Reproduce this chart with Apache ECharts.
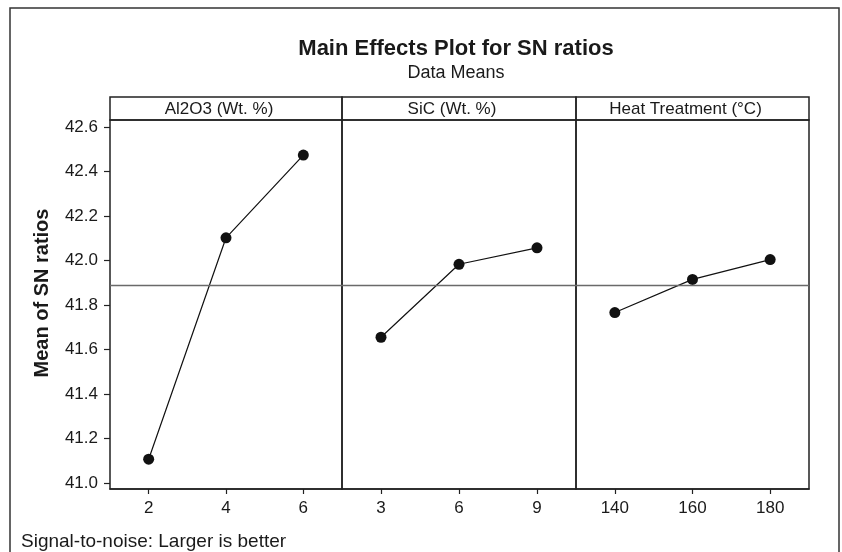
<!DOCTYPE html>
<html>
<head>
<meta charset="utf-8">
<script src="https://cdn.jsdelivr.net/npm/echarts@6/dist/echarts.min.js"></script>
<style>
  html, body { margin: 0; padding: 0; background: #fff; }
  #main { width: 842px; height: 552px; }
</style>
</head>
<body>
<div id="main"></div>
<script>
// factor levels and mean SN ratios
var panelNames = ['Al2O3 (Wt. %)', 'SiC (Wt. %)', 'Heat Treatment (°C)'];
var xAl = ['2', '4', '6'];
var snAl = [41.107, 42.102, 42.474];
var xSiC = ['3', '6', '9'];
var snSiC = [41.655, 41.983, 42.057];
var xHeat = ['140', '160', '180'];
var snHeat = [41.766, 41.915, 42.004];
var yTicks = [41.0, 41.2, 41.4, 41.6, 41.8, 42.0, 42.2, 42.4, 42.6];

var font = 'Liberation Sans, Arial, Helvetica, sans-serif';
var ink = '#1a1a1a';

// grand mean (reference line)
var grandMean = snAl.reduce(function (a, b) { return a + b; }, 0) / snAl.length;

var myChart = echarts.init(document.getElementById('main'));

var panels = [
    { left: 110, width: 232, cats: xAl, vals: snAl },
    { left: 342, width: 234, cats: xSiC, vals: snSiC },
    { left: 576, width: 233, cats: xHeat, vals: snHeat }
];

var grids = [], xAxes = [], yAxes = [], series = [], headers = [];

panels.forEach(function (p, i) {
    grids.push({
        left: p.left, top: 120, width: p.width, height: 369,
        show: true, borderColor: '#222', borderWidth: 1.5
    });
    xAxes.push({
        type: 'category', gridIndex: i, data: p.cats, boundaryGap: true,
        axisLine: { show: true, lineStyle: { color: '#222', width: 1.5 } },
        axisTick: { show: true, alignWithLabel: true, length: 5, lineStyle: { color: '#222', width: 1.2 } },
        axisLabel: { fontSize: 17, color: ink, fontFamily: font, margin: 11 },
        splitLine: { show: false }
    });
    yAxes.push({
        type: 'value', gridIndex: i, min: 40.973, max: 42.6315,
        axisLine: { show: false },
        axisTick: {
            show: i === 0, length: 6, customValues: yTicks,
            lineStyle: { color: '#222', width: 1.2 }
        },
        axisLabel: {
            show: i === 0, customValues: yTicks, fontSize: 17, color: ink,
            fontFamily: font, margin: 12,
            formatter: function (v) { return v.toFixed(1); }
        },
        splitLine: { show: false }
    });
    series.push({
        type: 'line', xAxisIndex: i, yAxisIndex: i, data: p.vals,
        symbol: 'circle', symbolSize: 11,
        itemStyle: { color: '#111' },
        lineStyle: { color: '#111', width: 1.2 },
        markLine: {
            silent: true, symbol: 'none', label: { show: false },
            lineStyle: { color: '#6a6a6a', width: 1.3, type: 'solid' },
            data: [{ yAxis: grandMean }]
        }
    });
    // panel header box
    headers.push({
        type: 'rect',
        shape: { x: p.left, y: 97, width: p.width, height: 23 },
        style: { fill: 'none', stroke: '#222', lineWidth: 1.5 }
    });
    headers.push({
        type: 'text',
        x: p.left + p.width / 2 - 7, y: 109,
        style: {
            text: panelNames[i], fontSize: 17, fontFamily: font, fill: ink,
            textAlign: 'center', textVerticalAlign: 'middle'
        }
    });
});

var option = {
    backgroundColor: '#fff',
    animation: false,
    title: {
        text: 'Main Effects Plot for SN ratios',
        subtext: 'Data Means',
        left: 451, top: 33, textAlign: 'center', itemGap: 4,
        textStyle: { fontSize: 22, fontWeight: 'bold', color: ink, fontFamily: font },
        subtextStyle: { fontSize: 18, color: ink, fontFamily: font }
    },
    grid: grids,
    xAxis: xAxes,
    yAxis: yAxes,
    series: series,
    graphic: headers.concat([
        {
            type: 'rect',
            shape: { x: 10, y: 8, width: 829, height: 580 },
            style: { fill: 'none', stroke: '#333', lineWidth: 1.5 }
        },
        {
            type: 'text', x: 42, y: 293, rotation: Math.PI / 2,
            style: {
                text: 'Mean of SN ratios', fontSize: 20, fontWeight: 'bold',
                fontFamily: font, fill: ink, textAlign: 'center', textVerticalAlign: 'middle'
            }
        },
        {
            type: 'text', x: 21, y: 542,
            style: {
                text: 'Signal-to-noise: Larger is better', fontSize: 19,
                fontFamily: font, fill: ink, textVerticalAlign: 'middle'
            }
        }
    ])
};

myChart.setOption(option);
</script>
</body>
</html>
